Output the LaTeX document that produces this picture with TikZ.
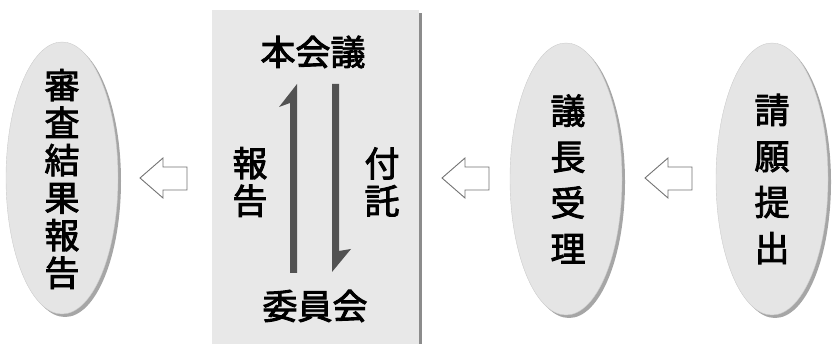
\documentclass[tikz,border=0pt]{standalone}
\usepackage{fontspec}
\newfontfamily\cjk{Noto Sans CJK JP}[FakeBold=2.5]
\usetikzlibrary{shapes.geometric,shadows}
\tikzset{
  oval/.style={ellipse, fill=ovalfill, draw=black!20, line width=0.4pt, minimum width=112pt, minimum height=272pt, inner sep=0pt,
    drop shadow={shadow xshift=3pt, shadow yshift=-3pt, fill=black!50, opacity=0.7}},
  vtext/.style={align=center, font=\cjk\fontsize{35}{37.5}\selectfont, inner sep=0pt},
  vtextw/.style={align=center, font=\cjk\fontsize{35}{46}\selectfont, inner sep=0pt},
  htext/.style={font=\cjk\fontsize{35}{37}\selectfont, inner sep=0pt},
  hollow/.style={draw=black!55, fill=white, line width=0.9pt, line join=miter},
  halfarrow/.style={fill=black!68, draw=none}
}
\colorlet{ovalfill}{black!10}
\colorlet{boxfill}{black!9}
\begin{document}
\begin{tikzpicture}[x=1pt,y=-1pt]
\useasboundingbox (0,0) rectangle (832,344);
% central box
\fill[black!45] (419,13) rectangle (422,344);
\fill[boxfill] (212,10) rectangle (419,344);
% ellipses
\node[oval] (result) at (62,178) {};
\node[vtext] at (62,179) {審\\査\\結\\果\\報\\告};
\node[oval] (chair) at (566,179) {};
\node[vtextw] at (568,179) {議\\長\\受\\理};
\node[oval] (petition) at (772,179) {};
\node[vtextw] at (772,179) {請\\願\\提\\出};
% box texts
\node[htext] (plenary) at (313,52) {本会議};
\node[htext] (committee) at (315,306) {委員会};
\node[vtext] (report) at (250,182) {報\\告};
\node[vtext] (refer) at (382,182) {付\\託};
% half arrows
\fill[halfarrow] (297,84) -- (297,273) -- (290,273) -- (290,103) -- (279,107) -- cycle;
\fill[halfarrow] (332,84) -- (339,84) -- (339,251) -- (351,249) -- (332,272) -- cycle;
% hollow arrows
\foreach \x/\n in {140/a1,442/a2,645/a3}{
  \draw[hollow] (\x,178) -- ++(23,-20) -- ++(0,9) -- ++(24,0) -- ++(0,23) -- ++(-24,0) -- ++(0,8) -- cycle;
}
\end{tikzpicture}
\end{document}
